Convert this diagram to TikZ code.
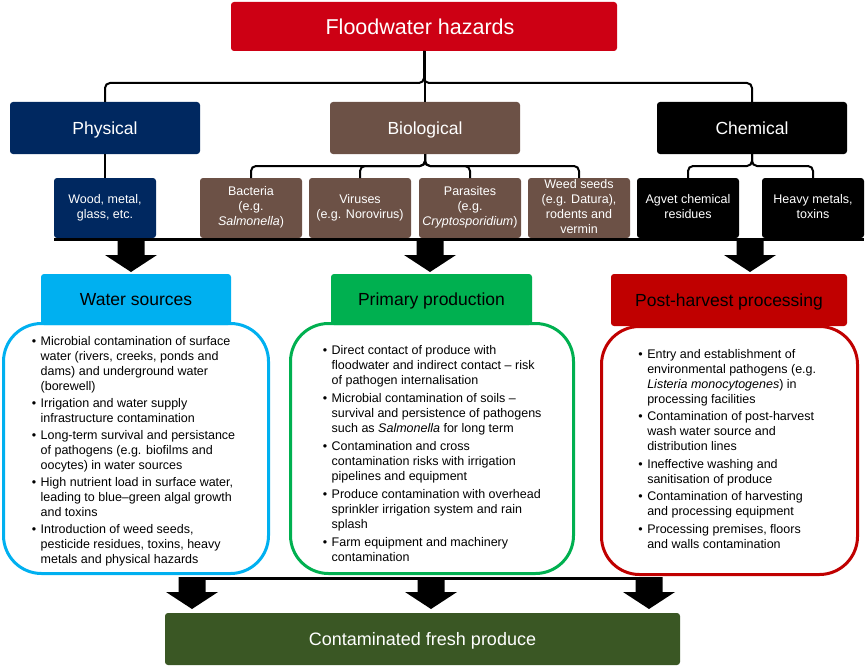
\documentclass[tikz,border=0pt]{standalone}
\usepackage{fontspec}
\setmainfont{Liberation Sans}
\definecolor{floodred}{RGB}{205,0,20}
\definecolor{physblue}{RGB}{0,40,96}
\definecolor{biobrown}{RGB}{108,81,70}
\definecolor{watercyan}{RGB}{0,176,240}
\definecolor{primgreen}{RGB}{0,176,80}
\definecolor{postred}{RGB}{192,0,0}
\definecolor{producegreen}{RGB}{58,87,36}
\newcommand\sublines[2][5pt]{\raisebox{-#1}{\smash{\begin{tabular}{@{}c@{}}#2\end{tabular}}}}
\tikzset{
  fatarrow/.pic={\fill[black] (-13.5,0) -- (13.5,0) -- (13.5,15) -- (26,15) -- (0,32) -- (-26,15) -- (-13.5,15) -- cycle;},
}
\begin{document}
\begin{tikzpicture}[x=1pt,y=-1pt,
  box/.style={anchor=north west, inner sep=0pt, outer sep=0pt, rounded corners=3pt, align=center, text=white},
  bigfont/.style={font=\fontsize{17.5}{21}\selectfont, text height=12.5pt, text depth=0pt},
  catbox/.style={box, bigfont, minimum width=190, minimum height=52},
  subbox/.style={anchor=north west, inner sep=0pt, outer sep=0pt, rounded corners=3pt, text=white, minimum width=102, minimum height=60, font=\fontsize{12.5}{15}\selectfont},
  panel/.style={anchor=north west, inner sep=0pt, outer sep=0pt, line width=3pt, rounded corners=38pt, fill=white},
  hdrbox/.style={box, bigfont, text=black, minimum height=51},
  blist/.style={anchor=base west, inner sep=0pt, outer sep=0pt, font=\fontsize{12.5}{15}\selectfont},
  conn/.style={line width=2pt, rounded corners=5pt},
  bus/.style={line width=2.6pt},
]
\useasboundingbox (0,0) rectangle (866,666);

% top level
\node[box, font=\fontsize{21.5}{25}\selectfont, text height=15.4pt, text depth=0pt, fill=floodred, minimum width=386, minimum height=49] (title) at (231,2) {Floodwater hazards\hspace*{8pt}};
\node[catbox, fill=physblue] (phys) at (10,102) {Physical};
\node[catbox, fill=biobrown] (bio) at (330,102) {Biological};
\node[catbox, fill=black] (chem) at (657,102) {Chemical};

% sub boxes
\node[subbox, fill=physblue] (wood) at (54,178) {\sublines{Wood, metal,\\glass, etc.}};
\node[subbox, fill=biobrown] (bact) at (200,178) {\sublines[4pt]{Bacteria\\(e.g.\\\textit{Salmonella})}};
\node[subbox, fill=biobrown] (vir) at (309,178) {\sublines{Viruses\\(e.g. Norovirus)}};
\node[subbox, fill=biobrown] (par) at (419,178) {\sublines[4pt]{Parasites\\(e.g.\\\textit{Cryptosporidium})}};
\node[subbox, fill=biobrown] (weed) at (528,178) {\sublines[5.4pt]{Weed seeds\\(e.g. Datura),\\rodents and\\vermin}};
\node[subbox, fill=black] (agv) at (637,178) {\sublines{Agvet chemical\\residues}};
\node[subbox, fill=black] (heavy) at (762,178) {\sublines{Heavy metals,\\toxins}};

% connectors
\draw[conn] (title.south) |- ([yshift=19pt]phys.north) -- (phys.north);
\draw[conn] (title.south) |- ([yshift=19pt]chem.north) -- (chem.north);
\draw[conn] (bio.north |- title.south) -- (bio.north);
\draw[conn] (phys.south) -- (wood.north);
\draw[conn] (bio.south) |- ([yshift=12pt]bact.north) -- (bact.north);
\draw[conn] (bio.south) |- ([yshift=12pt]vir.north) -- (vir.north);
\draw[conn] (bio.south) |- ([yshift=12pt]par.north) -- (par.north);
\draw[conn] (bio.south) |- ([yshift=12pt]weed.north) -- (weed.north);
\draw[conn] (chem.south) |- ([yshift=12pt]agv.north) -- (agv.north);
\draw[conn] (chem.south) |- ([yshift=12pt]heavy.north) -- (heavy.north);

% upper bus and arrows
\coordinate (busL) at (54,239.5);
\coordinate (busR) at (864,239.5);
\draw[bus] (busL) -- (busR);
\pic at (131,240) {fatarrow};
\pic at (430,240) {fatarrow};
\pic at (750,240) {fatarrow};

% panels
\node[panel, draw=watercyan, minimum width=265, minimum height=250] (wsp) at (3.5,323.5) {};
\node[panel, draw=primgreen, minimum width=283, minimum height=250] (psp) at (290.5,323.5) {};
\node[panel, draw=postred, minimum width=256, minimum height=248] (php) at (601.5,326.5) {};

% headers
\node[hdrbox, fill=watercyan, minimum width=190] (wsh) at (41,274) {Water sources};
\node[hdrbox, fill=primgreen, minimum width=201] (psh) at (331,274) {Primary production};
\node[hdrbox, fill=postred, minimum width=236, minimum height=52] (phh) at (611,274) {Post-harvest processing};

% bullet texts
\node[blist] (wst) at (31.8,345) {\begin{tabular}[t]{@{}l@{\hspace{4.5pt}}l@{}}
\textbullet & Microbial contamination of surface\\
 & water (rivers, creeks, ponds and\\
 & dams) and underground water\\
 & (borewell)\\[2pt]
\textbullet & Irrigation and water supply\\
 & infrastructure contamination\\[2pt]
\textbullet & Long-term survival and persistance\\
 & of pathogens (e.g. biofilms and\\
 & oocytes) in water sources\\[2pt]
\textbullet & High nutrient load in surface water,\\
 & leading to blue–green algal growth\\
 & and toxins\\[2pt]
\textbullet & Introduction of weed seeds,\\
 & pesticide residues, toxins, heavy\\
 & metals and physical hazards
\end{tabular}};

\node[blist] (pst) at (322.8,354.8) {\begin{tabular}[t]{@{}l@{\hspace{4.5pt}}l@{}}
\textbullet & Direct contact of produce with\\
 & floodwater and indirect contact – risk\\
 & of pathogen internalisation\\[3pt]
\textbullet & Microbial contamination of soils –\\
 & survival and persistence of pathogens\\
 & such as \textit{Salmonella} for long term\\[3pt]
\textbullet & Contamination and cross\\
 & contamination risks with irrigation\\
 & pipelines and equipment\\[3pt]
\textbullet & Produce contamination with overhead\\
 & sprinkler irrigation system and rain\\
 & splash\\[3pt]
\textbullet & Farm equipment and machinery\\
 & contamination
\end{tabular}};

\node[blist] (pht) at (638.4,358.2) {\begin{tabular}[t]{@{}l@{\hspace{4.5pt}}l@{}}
\textbullet & Entry and establishment of\\
 & environmental pathogens (e.g.\\
 & \textit{Listeria monocytogenes}) in\\
 & processing facilities\\[2.5pt]
\textbullet & Contamination of post-harvest\\
 & wash water source and\\
 & distribution lines\\[2.5pt]
\textbullet & Ineffective washing and\\
 & sanitisation of produce\\[2.5pt]
\textbullet & Contamination of harvesting\\
 & and processing equipment\\[2.5pt]
\textbullet & Processing premises, floors\\
 & and walls contamination
\end{tabular}};

% lower bus and arrows
\coordinate (bbL) at (179,578.5);
\coordinate (bbR) at (662,578.5);
\draw[line width=3pt] (bbL) -- (bbR);
\pic at (192,577) {fatarrow};
\pic at (431,577) {fatarrow};
\pic at (649,577) {fatarrow};

% result
\node[box, font=\fontsize{18}{21}\selectfont, text height=12.9pt, text depth=0pt, fill=producegreen, minimum width=515, minimum height=52] (cfp) at (165,613) {Contaminated fresh produce};
\end{tikzpicture}
\end{document}
